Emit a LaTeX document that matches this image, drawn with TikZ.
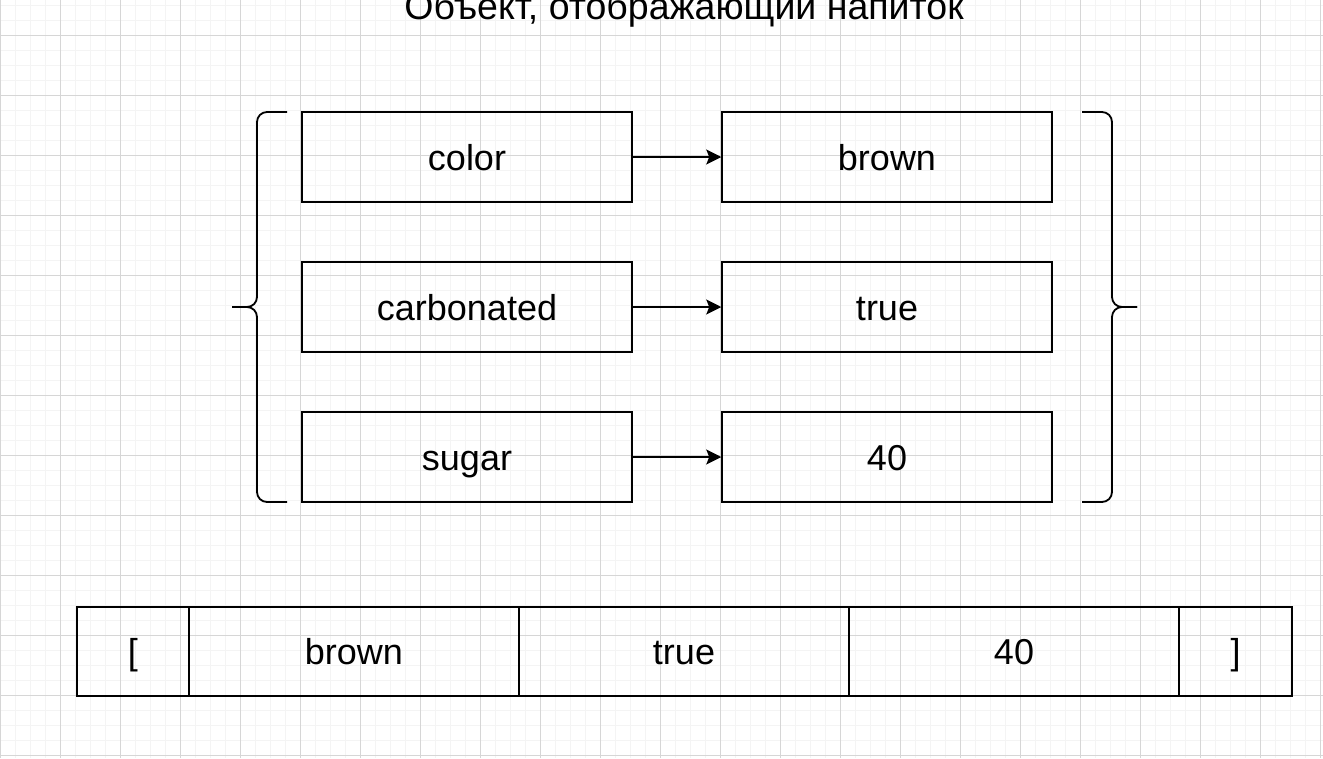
\documentclass[tikz,border=0pt]{standalone}
\usepackage{fontspec}
\setmainfont{Liberation Sans}
\usetikzlibrary{arrows.meta}
\definecolor{minorgrid}{HTML}{F4F4F4}
\definecolor{majorgrid}{HTML}{D6D6D6}
\tikzset{
  lbl/.style={font=\fontsize{36}{43}\selectfont, text height=30pt, text depth=4pt, inner sep=0pt},
  box/.style={lbl, draw=black, line width=1.5pt, minimum width=330pt, minimum height=90pt},
  cell/.style={lbl, draw=black, line width=1.5pt, minimum height=89pt},
  arr/.style={line width=1.5pt, -{Stealth[length=15pt,width=15pt,inset=3pt]}},
  brace/.style={line width=1.8pt, rounded corners=10pt}
}
\begin{document}
\begin{tikzpicture}[x=1pt,y=-1pt]
\useasboundingbox (0,0) rectangle (1323,758);
\fill[white] (0,0) rectangle (1323,758);
% grid
\foreach \x in {15,30,...,1320} \draw[minorgrid, line width=1pt] (\x,0) -- (\x,758);
\foreach \y in {5,20,...,755} \draw[minorgrid, line width=1pt] (0,\y) -- (1323,\y);
\foreach \x in {0,60,...,1320} \draw[majorgrid, line width=1pt] (\x,0) -- (\x,758);
\foreach \y in {35,95,...,755} \draw[majorgrid, line width=1pt] (0,\y) -- (1323,\y);

% title
\node[font=\fontsize{37.5}{45}\selectfont, anchor=base, inner sep=0pt] (title) at (684,19) {Объект, отображающий напиток};

% key/value boxes
\node[box] (k1) at (467,157) {color};
\node[box] (k2) at (467,307) {carbonated};
\node[box] (k3) at (467,457) {sugar};
\node[box] (v1) at (887,157) {brown};
\node[box] (v2) at (887,307) {true};
\node[box] (v3) at (887,457) {40};

\draw[arr] (k1.east) -- (v1.west);
\draw[arr] (k2.east) -- (v2.west);
\draw[arr] (k3.east) -- (v3.west);

% braces
\coordinate (lbt) at (287,112);
\coordinate (lbm) at (257,307);
\coordinate (lbtip) at (232,307);
\coordinate (lbb) at (287,502);
\draw[brace] (lbt) -| (lbm) -- (lbtip);
\draw[brace] (lbtip) -| (257,502) -- (lbb);

\coordinate (rbt) at (1082,112);
\coordinate (rbm) at (1112,307);
\coordinate (rbtip) at (1137,307);
\coordinate (rbb) at (1082,502);
\draw[brace] (rbt) -| (rbm) -- (rbtip);
\draw[brace] (rbtip) -| (1112,502) -- (rbb);

% array
\node[cell, minimum width=112pt] (a0) at (133,651.5) {[};
\node[cell, minimum width=330pt] (a1) at (354,651.5) {brown};
\node[cell, minimum width=330pt] (a2) at (684,651.5) {true};
\node[cell, minimum width=330pt] (a3) at (1014,651.5) {40};
\node[cell, minimum width=113pt] (a4) at (1235.5,651.5) {]};
\end{tikzpicture}
\end{document}
